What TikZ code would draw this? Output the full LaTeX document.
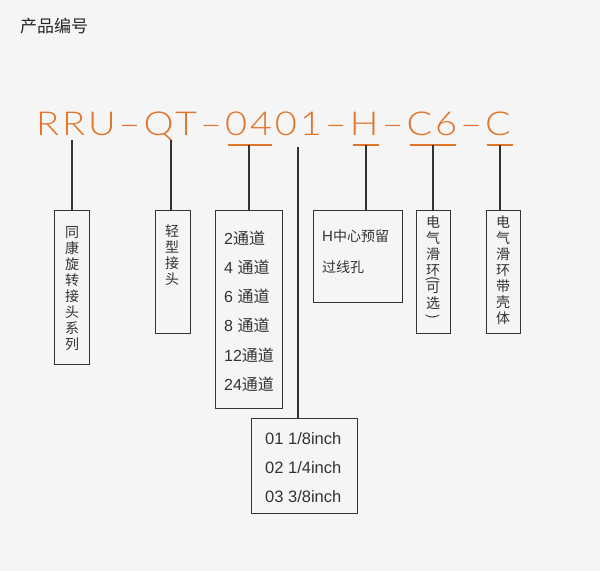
\documentclass[tikz,border=0pt]{standalone}
\usepackage{fontspec}
\setmainfont{Noto Sans CJK SC}
\newfontfamily\cjk{Noto Sans CJK SC}
\newfontfamily\lat{Liberation Sans}
\newfontfamily\thinfont[LetterSpace=9,FakeStretch=1.15]{Lato Light}
\definecolor{bg}{HTML}{F5F5F5}
\definecolor{org}{HTML}{E0742A}
\definecolor{ink}{HTML}{333333}
\newcommand{\vpl}{\rotatebox[origin=c]{-90}{(}}
\newcommand{\vpr}{\rotatebox[origin=c]{-90}{)}}
\begin{document}
\begin{tikzpicture}[x=1pt,y=-1pt,
  box/.style={draw=ink, line width=1.2pt, rectangle, inner sep=0pt, anchor=north west},
  wire/.style={draw=ink, line width=1.2pt},
  uline/.style={draw=org, line width=2pt},
  vt/.style={font=\fontsize{14}{16}\cjk, text=ink, align=center, anchor=north, inner sep=0pt},
  lt/.style={text=ink, anchor=west, inner sep=0pt}
]
\fill[bg] (0,0) rectangle (600,571);
\useasboundingbox (0,0) rectangle (600,571);

% title
\node[anchor=west, inner sep=0pt, text=black!85, font=\fontsize{17}{20}\cjk] (title) at (20,26) {产品编号};

% product code
\node[anchor=base west, inner sep=0pt, text=org, font=\fontsize{33}{36}\thinfont] (code) at (36,135) {RRU–QT–0401–H–C6–C};

% underlines
\draw[uline] (228,145) -- (272,145);
\draw[uline] (353,145) -- (379,145);
\draw[uline] (410,145) -- (456,145);
\draw[uline] (487,145) -- (513,145);

% wire start points
\coordinate (t1) at (72,140);
\coordinate (t2) at (171,140);
\coordinate (t3) at (249,145);
\coordinate (t4) at (298,147);
\coordinate (t5) at (366,145);
\coordinate (t6) at (433,145);
\coordinate (t7) at (500,145);

% boxes
\node[box, minimum width=35pt, minimum height=154pt] (b1) at (54,210) {};
\node[box, minimum width=35pt, minimum height=123pt] (b2) at (155,210) {};
\node[box, minimum width=67pt, minimum height=198pt] (b3) at (215,210) {};
\node[box, minimum width=106pt, minimum height=95pt] (b4) at (251,418) {};
\node[box, minimum width=89pt, minimum height=92pt] (bH) at (313,210) {};
\node[box, minimum width=34pt, minimum height=123pt] (b5) at (416,210) {};
\node[box, minimum width=34pt, minimum height=123pt] (b6) at (486,210) {};

% wires
\draw[wire] (t1) -- (t1 |- b1.north);
\draw[wire] (t2) -- (t2 |- b2.north);
\draw[wire] (t3) -- (t3 |- b3.north);
\draw[wire] (t4) -- (t4 |- b4.north);
\draw[wire] (t5) -- (t5 |- bH.north);
\draw[wire] (t6) -- (t6 |- b5.north);
\draw[wire] (t7) -- (t7 |- b6.north);

% texts
\node[vt] (x1) at (72,226) {同\\康\\旋\\转\\接\\头\\系\\列};
\node[vt] (x2) at (172,225) {轻\\型\\接\\头};
\node[vt] (x5) at (433,216) {电\\气\\滑\\环\\[-9pt]\vpl\\[-6pt]可\\选\\[-4pt]\vpr};
\node[vt] (x6) at (503,216) {电\\气\\滑\\环\\带\\壳\\体};

\foreach \t/\y [count=\i] in {{{\lat 2}通道}/238, {{\lat 4 }通道}/267, {{\lat 6 }通道}/296, {{\lat 8 }通道}/325, {{\lat 12}通道}/355, {{\lat 24}通道}/384}
  \node[lt, font=\fontsize{16}{18}\cjk] (c\i) at (224,\y) {\t};

\node[lt, font=\fontsize{14}{16}\cjk] (h1) at (322,236) {{\lat\fontsize{15}{16}\selectfont H}中心预留};
\node[lt, font=\fontsize{14}{16}\cjk] (h2) at (322,267) {过线孔};

\node[lt, font=\fontsize{16.5}{18}\lat] (i1) at (265,439) {01 1/8inch};
\node[lt, font=\fontsize{16.5}{18}\lat] (i2) at (265,468) {02 1/4inch};
\node[lt, font=\fontsize{16.5}{18}\lat] (i3) at (265,497) {03 3/8inch};
\end{tikzpicture}
\end{document}
